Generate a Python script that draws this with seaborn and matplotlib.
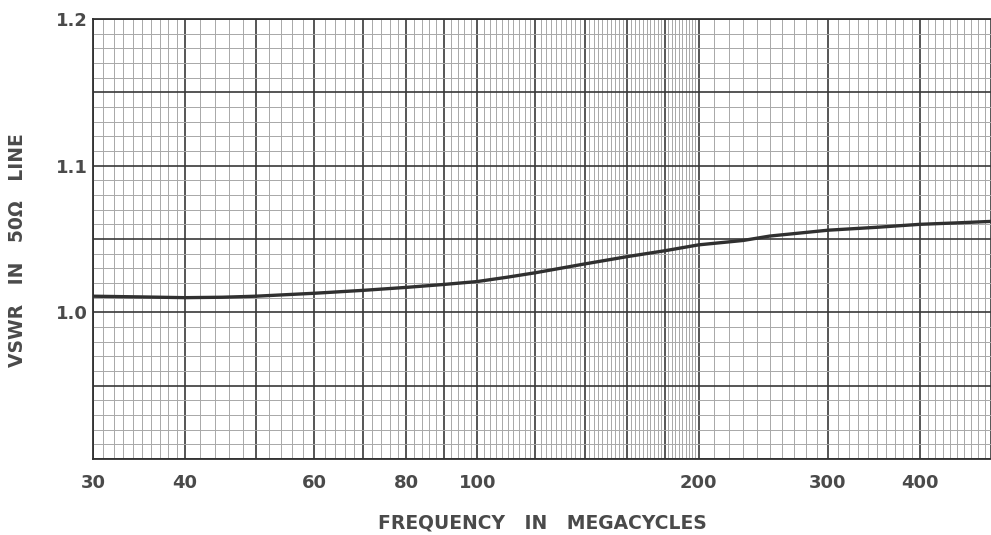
import numpy as np
import pandas as pd
import matplotlib
matplotlib.use('Agg')
import matplotlib.pyplot as plt
import matplotlib.ticker as mticker
import seaborn as sns

# curve
freq = [30, 35, 40, 45, 50, 60, 70, 80, 90, 100, 110, 120, 140, 160, 180,
        200, 230, 250, 300, 350, 400, 450, 500]
vswr = [1.011, 1.0105, 1.010, 1.0103, 1.011, 1.013, 1.015, 1.017, 1.019, 1.021,
        1.024, 1.027, 1.033, 1.038, 1.042, 1.046, 1.049, 1.052, 1.056, 1.058,
        1.060, 1.061, 1.062]

x_labels = {30: '30', 40: '40', 60: '60', 80: '80', 100: '100',
            200: '200', 300: '300', 400: '400'}
y_labels = {1.0: '1.0', 1.1: '1.1', 1.2: '1.2'}

df = pd.DataFrame({'freq': freq, 'vswr': vswr})

sns.set_style('white')
plt.rcParams['font.family'] = ['DejaVu Sans']

fig = plt.figure(figsize=(9.91, 5.35), dpi=100)
ax = fig.add_axes([93 / 991, 76 / 535, 898 / 991, 440 / 535])

sns.lineplot(data=df, x='freq', y='vswr', ax=ax, color='#303030', linewidth=2.4, zorder=5)

ax.set_xscale('log')
ax.set_xlim(30, 500)
ax.set_ylim(0.9, 1.2)

# graph paper rulings
x_major = list(range(30, 101, 10)) + list(range(120, 201, 20)) + [300, 400, 500]
x_minor = list(range(31, 40)) + list(range(42, 100, 2)) + list(range(102, 200, 2)) + list(range(210, 500, 10))
ax.xaxis.set_major_locator(mticker.FixedLocator(x_major))
ax.xaxis.set_major_formatter(mticker.FixedFormatter([x_labels.get(v, '') for v in x_major]))
ax.xaxis.set_minor_locator(mticker.FixedLocator(x_minor))
ax.xaxis.set_minor_formatter(mticker.NullFormatter())

y_major = [round(v, 2) for v in np.arange(0.9, 1.201, 0.05)]
y_minor = [round(v, 2) for v in np.arange(0.9, 1.201, 0.01)]
ax.yaxis.set_major_locator(mticker.FixedLocator(y_major))
ax.yaxis.set_major_formatter(mticker.FixedFormatter([y_labels.get(v, '') for v in y_major]))
ax.yaxis.set_minor_locator(mticker.FixedLocator(y_minor))
ax.yaxis.set_minor_formatter(mticker.NullFormatter())

ax.grid(which='minor', color='#a8a8a8', linewidth=0.7)
ax.grid(which='major', color='#383838', linewidth=1.2)
ax.set_axisbelow(True)

ax.tick_params(which='both', length=0)
ax.tick_params(axis='x', pad=11, labelsize=13, labelcolor='#4a4a4a')
ax.tick_params(axis='y', pad=4, labelsize=13, labelcolor='#4a4a4a')
for lab in ax.get_xticklabels() + ax.get_yticklabels():
    lab.set_fontweight('bold')

for side in ['left', 'top', 'bottom']:
    ax.spines[side].set_color('#303030')
    ax.spines[side].set_linewidth(1.3)
ax.spines['right'].set_visible(False)

ax.set_xlabel('FREQUENCY   IN   MEGACYCLES', fontsize=13.5, fontweight='bold',
              color='#4a4a4a', va='center')
ax.set_ylabel('VSWR   IN   50Ω   LINE', fontsize=13.5, fontweight='bold',
              color='#4a4a4a', va='center')
ax.xaxis.set_label_coords(0.5, -0.145)
ax.yaxis.set_label_coords(-0.0836, 0.475)

fig.savefig('out.png', dpi=100)
